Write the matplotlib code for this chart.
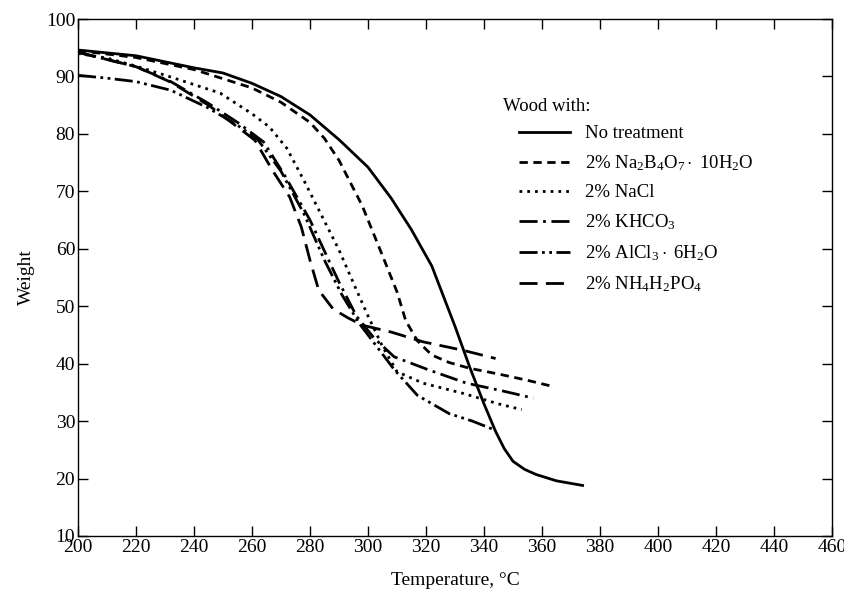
import matplotlib
matplotlib.use('Agg')
import matplotlib.pyplot as plt
from matplotlib.lines import Line2D

plt.rcParams['font.family'] = ['Liberation Serif', 'DejaVu Serif']
plt.rcParams['mathtext.fontset'] = 'custom'
plt.rcParams['mathtext.rm'] = 'Liberation Serif'
plt.rcParams['mathtext.it'] = 'Liberation Serif:italic'

# Thermogravimetric curves (temperature in °C, weight)
t_none = [200, 220, 240, 250, 260, 270, 280, 290, 300, 308, 315, 322, 330, 335, 340, 344, 347, 350, 354, 358, 365, 374]
w_none = [94.6, 93.6, 91.5, 90.6, 88.8, 86.5, 83.3, 79.0, 74.2, 68.8, 63.3, 57.0, 46.5, 39.5, 33.0, 28.2, 25.2, 23.0, 21.6, 20.7, 19.6, 18.8]

t_borax = [200, 220, 240, 260, 270, 280, 285, 290, 298, 305, 310, 313, 317, 322, 328, 335, 345, 355, 364]
w_borax = [94.5, 93.3, 91.2, 88.0, 85.5, 82.0, 79.2, 75.4, 67.5, 58.8, 52.5, 47.5, 44.0, 41.5, 40.2, 39.2, 38.2, 37.1, 36.0]

t_nacl = [200, 210, 220, 232, 249, 260, 266, 272, 278, 284, 290, 295, 300, 305, 310, 319, 333, 345, 353]
w_nacl = [94.0, 93.2, 91.8, 89.9, 87.1, 83.5, 81.2, 77.5, 71.8, 65.8, 59.8, 54.0, 48.3, 43.0, 38.6, 36.6, 34.8, 33.0, 32.0]

t_khco3 = [200, 220, 232, 245, 255, 264, 271, 280, 286, 290, 296, 302, 309, 321, 334, 346, 357]
w_khco3 = [94.2, 91.7, 89.1, 85.3, 82.0, 78.6, 73.0, 65.0, 58.5, 54.2, 48.3, 44.5, 41.2, 38.9, 36.6, 35.3, 34.0]

t_alcl3 = [200, 210, 220, 232, 245, 255, 262, 270, 278, 285, 291, 297, 303, 309, 317, 328, 336, 344]
w_alcl3 = [90.2, 89.7, 89.1, 87.6, 84.5, 81.5, 79.0, 73.5, 66.0, 58.0, 52.0, 47.0, 43.0, 39.0, 34.5, 31.3, 30.0, 28.4]

t_nh4 = [200, 220, 232, 245, 255, 261, 267, 273, 277, 280, 283, 288, 293, 298, 308, 319, 333, 344]
w_nh4 = [94.2, 91.7, 89.0, 85.0, 81.2, 78.9, 73.7, 69.0, 63.8, 58.0, 52.8, 49.5, 48.0, 46.7, 45.5, 43.8, 42.3, 40.9]

labels = ['No treatment',
          r'2% Na$_2$B$_4$O$_7 \cdot$ 10H$_2$O',
          '2% NaCl',
          r'2% KHCO$_3$',
          r'2% AlCl$_3 \cdot$ 6H$_2$O',
          r'2% NH$_4$H$_2$PO$_4$']

series = [(t_none, w_none), (t_borax, w_borax), (t_nacl, w_nacl),
          (t_khco3, w_khco3), (t_alcl3, w_alcl3), (t_nh4, w_nh4)]

styles = [
    dict(linestyle='-'),
    dict(linestyle=(0, (3.0, 2.0))),
    dict(linestyle=(0, (1.0, 1.8))),
    dict(linestyle=(0, (6.5, 2.0, 1.0, 2.0))),
    dict(linestyle=(0, (6.5, 1.6, 1.0, 1.6, 1.0, 1.6))),
    dict(linestyle=(0, (6.5, 3.0))),
]

fig = plt.figure(figsize=(8.45, 5.89), dpi=100)
ax = fig.add_axes([78 / 845, 1 - 536 / 589, (832 - 78) / 845, (536 - 19) / 589])

for (t, w), st in zip(series, styles):
    ax.plot(t, w, color='black', linewidth=2.0, **st)

ax.set_xlim(200, 460)
ax.set_ylim(10, 100)
ax.set_xticks(range(200, 461, 20))
ax.set_yticks(range(10, 101, 10))
ax.tick_params(direction='in', length=7, width=1.0, top=True, right=True,
               labelsize=14, pad=2)
for s in ax.spines.values():
    s.set_linewidth(1.0)

ax.set_xlabel('Temperature, °C', fontsize=14, labelpad=12)
ax.set_ylabel('Weight', fontsize=14, labelpad=8)

handles = [Line2D([0], [0], color='black', linewidth=2.0, **st) for st in styles]
ax.text(346.5, 84.7, 'Wood with:', fontsize=13.5, va='center', ha='left')
ax.legend(handles, labels, loc='upper left', bbox_to_anchor=(0.585, 0.795),
          frameon=False, fontsize=13.5, handlelength=2.7, handletextpad=0.8,
          labelspacing=0.6, borderaxespad=0, borderpad=0)

fig.savefig('out.png', dpi=100)
